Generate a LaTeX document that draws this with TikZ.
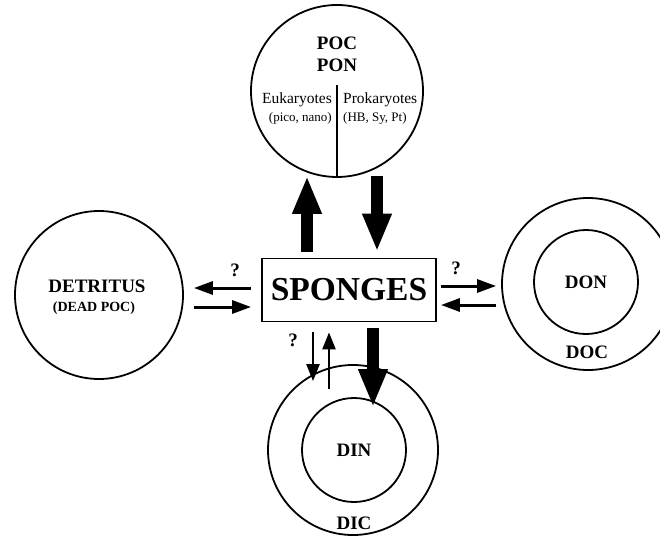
\documentclass[tikz,border=0pt]{standalone}
\usepackage{fontspec}
\setmainfont{Liberation Serif}
\usetikzlibrary{arrows.meta,calc}
\begin{document}
\begin{tikzpicture}[x=1pt,y=1pt,
  ring/.style={circle,draw,line width=1.8pt,inner sep=0pt},
  bigarrow/.style={line width=12.5pt,-{Triangle[length=38pt,width=27pt]}},
  thinarrow/.style={line width=3pt,-{Triangle[length=19pt,width=13pt]}},
  lbl/.style={font=\fontsize{19}{21}\selectfont\bfseries,inner sep=0pt},
  qm/.style={font=\fontsize{19}{21}\selectfont\bfseries,inner sep=0pt},
  small/.style={font=\fontsize{15.5}{17}\selectfont,inner sep=0pt},
  tiny/.style={font=\fontsize{13}{15}\selectfont,inner sep=0pt}]
\useasboundingbox (0,0) rectangle (660,-537);
\clip (0,0) rectangle (660,-537);
% nodes
\node[ring,minimum size=172pt] (poc) at (337,-91) {};
\node[lbl] (poct) at (337,-43) {POC};
\node[lbl] (pont) at (337,-65) {PON};
\node[small,anchor=east] (euk) at (332,-100) {Eukaryotes};
\node[tiny,anchor=east] (eukp) at (332,-118) {(pico, nano)};
\node[small,anchor=west] (pro) at (343,-100) {Prokaryotes};
\node[tiny,anchor=west] (prop) at (343,-118) {(HB, Sy, Pt)};
\coordinate (divtop) at (337,-85);
\draw[line width=1.5pt] (divtop) -- (poc.south);

\node[ring,minimum size=168pt] (det) at (99,-295) {};
\node[lbl] (dett) at (97,-286) {DETRITUS};
\node[font=\fontsize{14}{16}\selectfont\bfseries,inner sep=0pt] (detp) at (94,-308) {(DEAD POC)};

\node[draw,line width=1.8pt,minimum width=174pt,minimum height=63pt,inner sep=0pt,
      font=\fontsize{33.5}{35}\selectfont\bfseries] (sp) at (349,-290) {SPONGES};

\node[ring,minimum size=172pt] (docO) at (588,-284) {};
\node[ring,minimum size=104pt,lbl] (donI) at (586,-282) {DON};
\node[lbl] (doct) at (587,-352) {DOC};

\node[ring,minimum size=170pt] (dicO) at (353,-450) {};
\node[ring,minimum size=104pt,lbl] (dinI) at (354,-450) {DIN};
\node[lbl] (dict) at (354,-523) {DIC};

% question marks
\node[qm] (q1) at (235,-270) {?};
\node[qm] (q2) at (456,-268) {?};
\node[qm] (q3) at (293,-340) {?};

% top arrows
\draw[bigarrow] ([xshift=-42pt,yshift=6pt]sp.north) -- ([xshift=-30pt,yshift=2pt]poc.south);
\draw[bigarrow] ([xshift=40pt,yshift=2pt]poc.south) -- ([xshift=28pt,yshift=6pt]sp.north);

% left arrows
\draw[thinarrow] ([xshift=-10pt,yshift=2pt]sp.west) -- ([xshift=10pt,yshift=7pt]det.east);
\draw[thinarrow] ([xshift=10pt,yshift=-12pt]det.east) -- ([xshift=-10pt,yshift=-17pt]sp.west);

% right arrows
\draw[thinarrow] ([xshift=4pt,yshift=4pt]sp.east) -- ([xshift=-5pt,yshift=-2pt]docO.west);
\draw[thinarrow] ([xshift=-5pt,yshift=-21pt]docO.west) -- ([xshift=4pt,yshift=-15pt]sp.east);

% bottom arrows
\draw[bigarrow] ([xshift=24pt,yshift=-6pt]sp.south) -- ([xshift=19pt,yshift=-10pt]dinI.north);
\draw[thinarrow,line width=2.4pt,-{Triangle[length=17pt,width=13pt]}] ([xshift=-36pt,yshift=-10pt]sp.south) -- ([xshift=-40pt,yshift=-17pt]dicO.north);
\draw[thinarrow,line width=2.4pt,-{Triangle[length=17pt,width=13pt]}] ([xshift=-24pt,yshift=-25pt]dicO.north) -- ([xshift=-20pt,yshift=-10pt]sp.south);
\end{tikzpicture}
\end{document}
